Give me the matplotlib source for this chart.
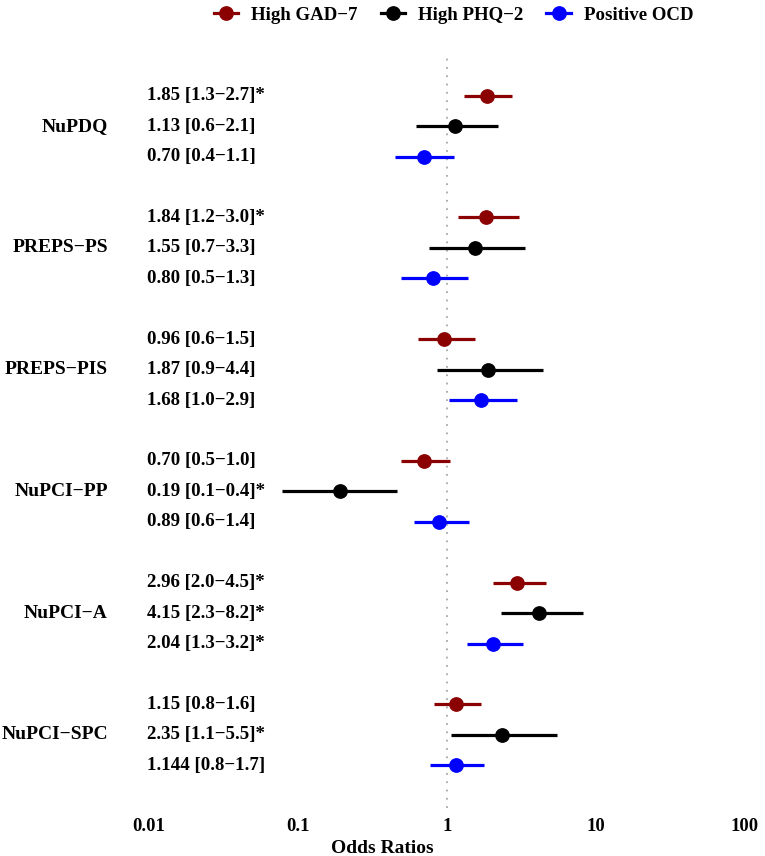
import matplotlib
matplotlib.use("Agg")
import matplotlib.pyplot as plt
from matplotlib.lines import Line2D
import numpy as np

plt.rcParams['font.family'] = ['Liberation Serif', 'DejaVu Serif']
plt.rcParams['font.weight'] = 'bold'

groups = ["NuPDQ", "PREPS−PS", "PREPS−PIS", "NuPCI−PP", "NuPCI−A", "NuPCI−SPC"]
series = ["High GAD−7", "High PHQ−2", "Positive OCD"]
colors = ["#8B0000", "#000000", "#0000FF"]

# odds ratios and confidence limits
gad_or = [1.85, 1.84, 0.96, 0.70, 2.96, 1.15]
gad_lo = [1.31, 1.19, 0.64, 0.49, 2.05, 0.82]
gad_hi = [2.71, 3.04, 1.53, 1.05, 4.65, 1.69]
gad_txt = ["1.85 [1.3−2.7]*", "1.84 [1.2−3.0]*", "0.96 [0.6−1.5]",
           "0.70 [0.5−1.0]", "2.96 [2.0−4.5]*", "1.15 [0.8−1.6]"]

phq_or = [1.13, 1.55, 1.87, 0.19, 4.15, 2.35]
phq_lo = [0.62, 0.76, 0.86, 0.078, 2.32, 1.07]
phq_hi = [2.19, 3.33, 4.38, 0.46, 8.19, 5.49]
phq_txt = ["1.13 [0.6−2.1]", "1.55 [0.7−3.3]", "1.87 [0.9−4.4]",
           "0.19 [0.1−0.4]*", "4.15 [2.3−8.2]*", "2.35 [1.1−5.5]*"]

ocd_or = [0.70, 0.80, 1.68, 0.89, 2.04, 1.144]
ocd_lo = [0.45, 0.49, 1.03, 0.60, 1.37, 0.77]
ocd_hi = [1.11, 1.38, 2.94, 1.41, 3.25, 1.78]
ocd_txt = ["0.70 [0.4−1.1]", "0.80 [0.5−1.3]", "1.68 [1.0−2.9]",
           "0.89 [0.6−1.4]", "2.04 [1.3−3.2]*", "1.144 [0.8−1.7]"]

xticks = [0.01, 0.1, 1, 10, 100]
xticklabels = ["0.01", "0.1", "1", "10", "100"]

all_or = [gad_or, phq_or, ocd_or]
all_lo = [gad_lo, phq_lo, ocd_lo]
all_hi = [gad_hi, phq_hi, ocd_hi]
all_txt = [gad_txt, phq_txt, ocd_txt]

W, H = 765, 856
fig = plt.figure(figsize=(W / 100, H / 100), dpi=100)
top_px, bot_px = 53, 808
ax = fig.add_axes([0, 1 - bot_px / H, 1, (bot_px - top_px) / H])

ax.set_xscale("log")
x1_px, decade = 447, 149
ax.set_xlim(10 ** ((0 - x1_px) / decade), 10 ** ((W - x1_px) / decade))
ax.set_ylim(22 + 1.4, -1.4)

ax.axvline(1, color="#A8A8A8", lw=1.3, ls=(0, (1, 3.6)), zorder=1)

for s in range(3):
    ys = np.arange(len(groups)) * 4 + s
    ax.hlines(ys, all_lo[s], all_hi[s], color=colors[s], lw=2.3, zorder=2)
    ax.plot(all_or[s], ys, "o", color=colors[s], ms=9.6, zorder=3)
    for y, t in zip(ys, all_txt[s]):
        ax.text(147 / W, y, t, transform=ax.get_yaxis_transform(),
                ha="left", va="center", fontsize=13.6, fontweight="bold")

for g, name in enumerate(groups):
    ax.text(108 / W, g * 4 + 1, name, transform=ax.get_yaxis_transform(),
            ha="right", va="center", fontsize=14, fontweight="bold")

for sp in ax.spines.values():
    sp.set_visible(False)
ax.set_yticks([])
ax.set_xticks(xticks)
ax.set_xticklabels(xticklabels, fontsize=13.4, fontweight="bold")
ax.minorticks_off()
ax.tick_params(axis="x", length=0, pad=7.5)
ax.set_xlabel("Odds Ratios", fontsize=14, fontweight="bold", labelpad=3)

handles = [Line2D([0], [0], color=c, lw=2.3, marker="o", ms=9.6) for c in colors]
fig.legend(handles, series, loc="upper center", bbox_to_anchor=(0.593, 1.0),
           ncol=3, frameon=False, handlelength=1.3,
           handletextpad=0.7, columnspacing=1.2, borderaxespad=0.2,
           borderpad=0.15, prop={"weight": "bold", "size": 13.6})

fig.savefig("out.png", dpi=100)
